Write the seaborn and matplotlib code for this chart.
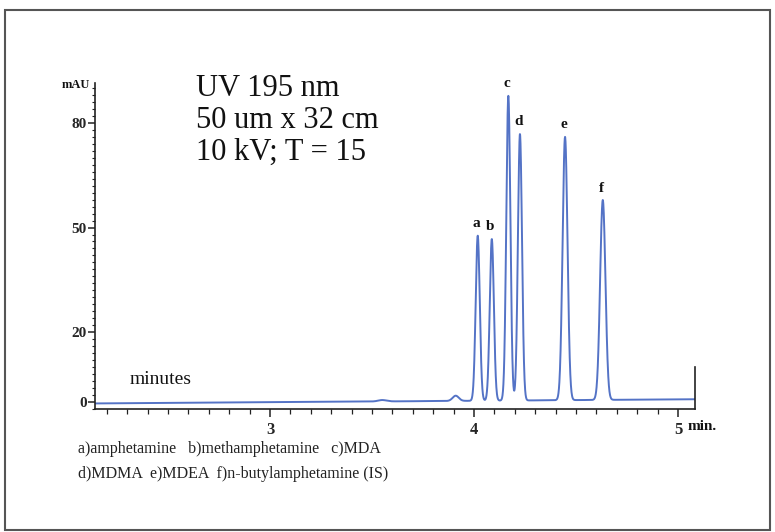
import numpy as np
import pandas as pd
import matplotlib
matplotlib.use("Agg")
import matplotlib.pyplot as plt
from matplotlib.ticker import MultipleLocator, FixedLocator
from matplotlib.patches import Rectangle
import seaborn as sns

# Peak table: migration time (min), height (mAU), width (min)
peak_labels = ["a", "b", "c", "d", "e", "f"]
peak_times = [4.018, 4.087, 4.168, 4.225, 4.446, 4.631]
peak_heights = [47.4, 46.4, 87.5, 76.5, 75.6, 57.4]
peak_sigmas = [0.010, 0.010, 0.010, 0.010, 0.012, 0.013]

# small baseline disturbances before the first analyte
bump_times = [3.55, 3.91]
bump_heights = [0.4, 1.5]
bump_sigmas = [0.02, 0.015]

y_ticks = [0, 20, 50, 80]
x_ticks = [3, 4, 5]
info_lines = ["UV 195 nm", "50 um x 32 cm", "10 kV; T = 15"]
legend_lines = ["a)amphetamine   b)methamphetamine   c)MDA",
                "d)MDMA  e)MDEA  f)n-butylamphetamine (IS)"]

t_start, t_end = 2.142, 5.083
t = np.linspace(t_start, t_end, 4000)
signal = -0.5 + 1.2 * (t - t_start) / (t_end - t_start)
for tc, h, s in zip(peak_times + bump_times, peak_heights + bump_heights,
                    peak_sigmas + bump_sigmas):
    signal = signal + h * np.exp(-0.5 * ((t - tc) / s) ** 2)
df = pd.DataFrame({"time": t, "mAU": signal})

sns.set_style("ticks")
plt.rcParams["font.family"] = ["Liberation Serif", "DejaVu Serif"]

W, H = 775, 532
fig = plt.figure(figsize=(W / 100, H / 100), dpi=100)
fig.patch.set_facecolor("white")


def fx(px):
    return px / W


def fy(py):
    return 1 - py / H


ax = fig.add_axes([fx(95), fy(409), fx(695) - fx(95), fy(83) - fy(409)])
sns.lineplot(data=df, x="time", y="mAU", ax=ax, color="#5473c6",
             linewidth=1.4, estimator=None, sort=False)

ax.set_xlim(t_start, t_end)
ax.set_ylim(-2.1, 91.5)
ax.set_xlabel("")
ax.set_ylabel("")

ax.spines["top"].set_visible(False)
ax.spines["right"].set_bounds(-2.1, 10)
for sp in ax.spines.values():
    sp.set_color("#222222")
    sp.set_linewidth(1.2)

ax.xaxis.set_major_locator(FixedLocator(x_ticks))
ax.xaxis.set_minor_locator(MultipleLocator(0.1))
ax.yaxis.set_major_locator(FixedLocator(y_ticks))
ax.yaxis.set_minor_locator(MultipleLocator(2))
ax.tick_params(axis="x", which="major", direction="out", length=6, width=1.1,
               color="#222222", pad=3)
ax.tick_params(axis="x", which="minor", direction="out", length=3.5, width=0.9,
               color="#222222")
ax.tick_params(axis="y", which="major", direction="out", length=5, width=1.1,
               color="#222222", pad=1)
ax.tick_params(axis="y", which="minor", direction="out", length=2, width=0.8,
               color="#222222")
for lab in ax.get_xticklabels():
    lab.set_fontweight("bold")
    lab.set_fontsize(12)
for lab in ax.get_yticklabels():
    lab.set_fontweight("bold")
    lab.set_fontsize(11)

# peak letters above each peak
for lab, tc, h in zip(peak_labels, peak_times, peak_heights):
    ax.annotate(lab, xy=(tc, h), xytext=(-1, 5), textcoords="offset points",
                ha="center", va="bottom", fontsize=11, fontweight="bold",
                color="#111111")

fig.text(fx(90), fy(85), "mAU", ha="right", va="center", fontsize=9,
         fontweight="bold", color="#111111")
fig.text(fx(688), fy(427), "min.", ha="left", va="center", fontsize=11,
         fontweight="bold", color="#111111")

for i, line in enumerate(info_lines):
    fig.text(fx(196), fy(96 + 32 * i), line, ha="left", va="baseline",
             fontsize=22, color="#111111")

fig.text(fx(130), fy(380), "minutes", ha="left", va="center", fontsize=14,
         color="#111111")

for i, line in enumerate(legend_lines):
    fig.text(fx(78), fy(449 + 25 * i), line, ha="left", va="center",
             fontsize=11.5, color="#222222")

fig.add_artist(Rectangle((fx(5), fy(530)), fx(770) - fx(5), fy(10) - fy(530),
                         transform=fig.transFigure, fill=False,
                         edgecolor="#555555", linewidth=1.5))

fig.savefig("out.png", dpi=100, facecolor="white")
